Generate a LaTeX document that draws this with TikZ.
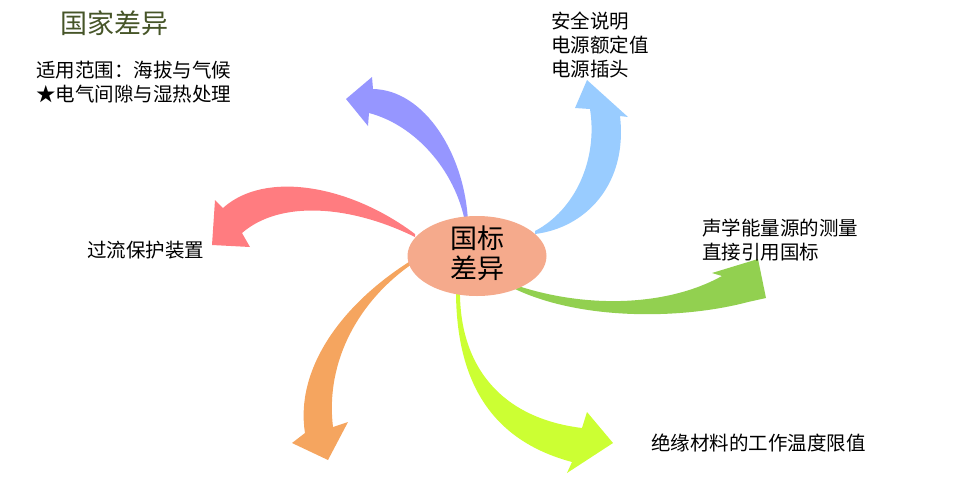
\documentclass[tikz,border=0pt]{standalone}
\usepackage{fontspec}
\setmainfont{Noto Sans CJK SC}
\usetikzlibrary{shapes.geometric}
\definecolor{cpurple}{RGB}{150,150,255}
\definecolor{cblue}{RGB}{153,204,255}
\definecolor{cred}{RGB}{255,124,128}
\definecolor{cgreen}{RGB}{146,208,80}
\definecolor{corange}{RGB}{245,165,95}
\definecolor{cyellow}{RGB}{204,255,51}
\definecolor{cnode}{RGB}{245,170,140}
\definecolor{ctitle}{RGB}{70,85,40}
\tikzset{
  lbl/.style={inner sep=0pt, anchor=west, align=left, font=\fontsize{19.5}{24}\selectfont},
  bigarrow/.style={draw=none},
}
\begin{document}
\begin{tikzpicture}[x=1pt,y=-1pt]
\useasboundingbox (0,0) rectangle (962,491);
% arrows
\fill[cpurple] (468,222) .. controls (465,155) and (425,90) .. (373,89) -- (372,77) -- (346,99) -- (368,126) -- (369,113) .. controls (415,125) and (455,170) .. (465,222) -- cycle;
\fill[cblue] (535,234) .. controls (585,228) and (628,185) .. (620,116) -- (628,117) -- (587,80) -- (575,108) -- (590,109) .. controls (598,160) and (575,210) .. (535,231) -- cycle;
\fill[cred] (415,234) .. controls (350,185) and (265,170) .. (223,208) -- (215,200) -- (212,245) -- (250,247) -- (242,233) .. controls (280,200) and (350,205) .. (415,237) -- cycle;
\fill[cgreen] (515,285) .. controls (590,310) and (670,305) .. (722,276) -- (712,273) -- (758,259) -- (766,298) -- (748,302) .. controls (680,320) and (580,320) .. (515,289) -- cycle;
\fill[corange] (412,260) .. controls (340,305) and (295,370) .. (305,433) -- (292,443) -- (328,460) -- (348,422) -- (333,427) .. controls (325,360) and (360,300) .. (412,264) -- cycle;
\fill[cyellow] (460,286) .. controls (458,365) and (500,418) .. (582,428) -- (587,412) -- (613,443) -- (567,473) -- (572,462) .. controls (490,440) and (455,380) .. (456,286) -- cycle;
% center node
\node[ellipse, fill=cnode, minimum width=139pt, minimum height=80pt, inner sep=0pt] (center) at (477,256) {};
\node[inner sep=0pt, align=center, font=\fontsize{27}{30}\selectfont] (centertext) at (477,253) {国标\\差异};
% title
\node[inner sep=0pt, anchor=west, text=ctitle, font=\fontsize{27}{30}\selectfont] (title) at (60,23) {国家差异};
% labels
\node[lbl] (l1) at (36,82) {适用范围：海拔与气候\\★电气间隙与湿热处理};
\node[lbl] (l2) at (551,45) {安全说明\\电源额定值\\电源插头};
\node[lbl] (l3) at (87,250) {过流保护装置};
\node[lbl] (l4) at (702,240) {声学能量源的测量\\直接引用国标};
\node[lbl] (l5) at (651,443) {绝缘材料的工作温度限值};
\end{tikzpicture}
\end{document}
